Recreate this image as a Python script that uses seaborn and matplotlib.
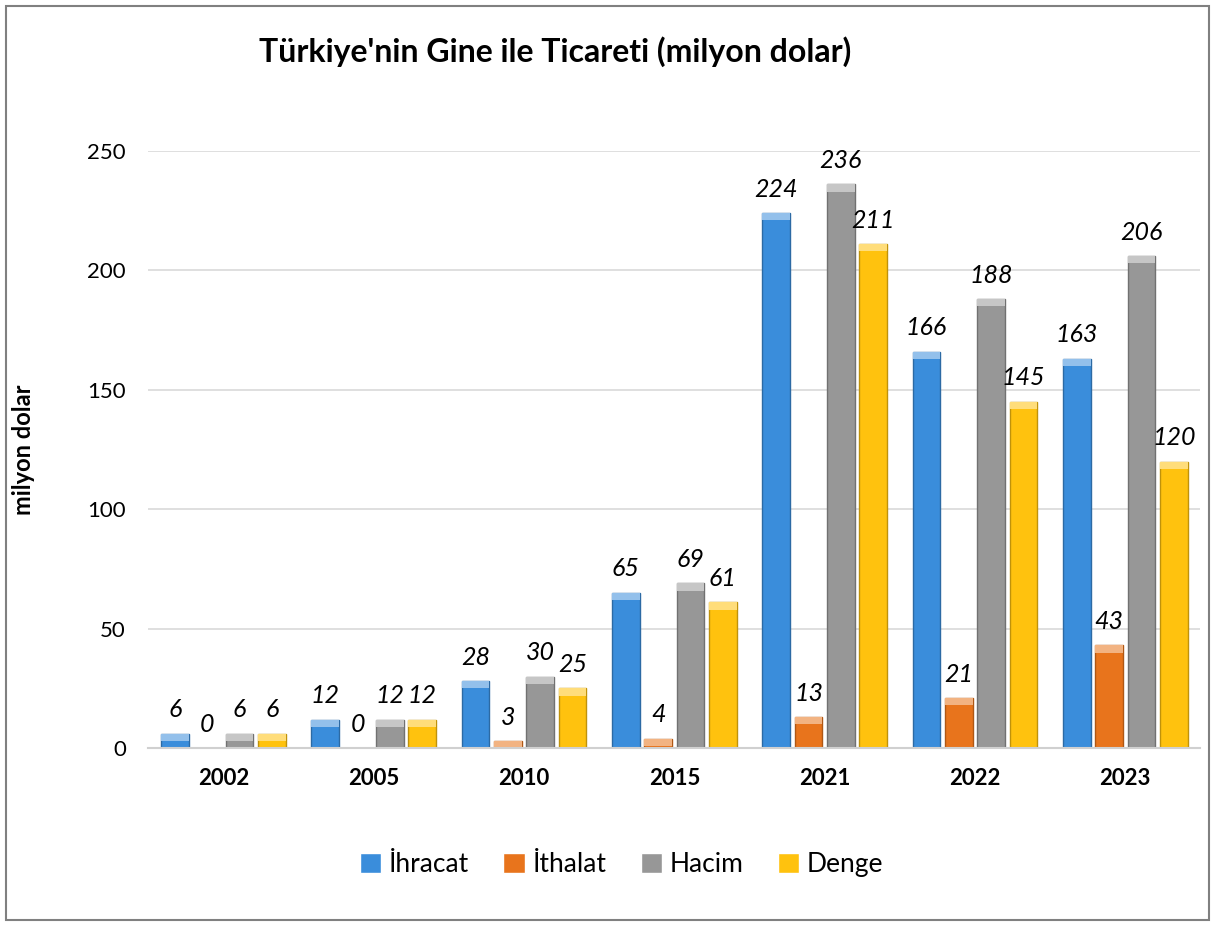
import numpy as np
import pandas as pd
import matplotlib
matplotlib.use("Agg")
import matplotlib.pyplot as plt
import seaborn as sns

years = ["2002", "2005", "2010", "2015", "2021", "2022", "2023"]
ihracat = [6, 12, 28, 65, 224, 166, 163]
ithalat = [0, 0, 3, 4, 13, 21, 43]
hacim = [6, 12, 30, 69, 236, 188, 206]
denge = [6, 12, 25, 61, 211, 145, 120]
series = ["İhracat", "İthalat", "Hacim", "Denge"]
palette = ["#3A8DDB", "#E8741C", "#979797", "#FFC20E"]

df = pd.DataFrame({"Yıl": years * 4,
                   "Seri": np.repeat(series, len(years)),
                   "Değer": ihracat + ithalat + hacim + denge})

sns.set_theme(style="white")
plt.rcParams["font.family"] = ["Lato", "DejaVu Sans"]
plt.rcParams["text.color"] = "black"
plt.rcParams["xtick.color"] = "black"
plt.rcParams["ytick.color"] = "black"
plt.rcParams["axes.labelcolor"] = "black"

fig = plt.figure(figsize=(12.15, 9.26), dpi=100)
ax = fig.add_axes([0.122, 0.192, 0.866, 0.645])

sns.barplot(data=df, x="Yıl", y="Değer", hue="Seri", palette=palette,
            width=0.86, gap=0.14, ax=ax, legend=True, saturation=1)

# darker outline + light top cap for a bevel feel
for cont, col in zip(ax.containers, palette):
    dark = tuple(c * 0.75 for c in matplotlib.colors.to_rgb(col))
    light = tuple(min(1, c + (1 - c) * 0.45) for c in matplotlib.colors.to_rgb(col))
    for p in cont:
        p.set_edgecolor(dark)
        p.set_linewidth(1.0)
        h = p.get_height()
        if h > 0:
            cap = min(h, 3.0)
            ax.add_patch(plt.Rectangle((p.get_x(), h - cap), p.get_width(), cap,
                                       facecolor=light, edgecolor="none", zorder=p.get_zorder() + 0.1))
    ax.bar_label(cont, fmt="%d", padding=9, fontsize=18, fontstyle="italic")

ax.set_ylim(0, 250)
ax.set_yticks([0, 50, 100, 150, 200, 250])
ax.yaxis.grid(True, color="#D9D9D9", linewidth=1.2)
ax.set_axisbelow(True)
for s in ["top", "right", "left"]:
    ax.spines[s].set_visible(False)
ax.spines["bottom"].set_color("#D0D0D0")
ax.spines["bottom"].set_linewidth(1.5)
ax.tick_params(axis="y", labelsize=16, length=0, pad=16)
ax.tick_params(axis="x", labelsize=16, length=0, pad=14)
for t in ax.get_xticklabels():
    t.set_fontweight("bold")
ax.set_xlabel("")
ax.set_ylabel("milyon dolar", fontsize=17, fontweight="bold", labelpad=38)

fig.text(0.457, 0.944, "Türkiye'nin Gine ile Ticareti (milyon dolar)",
         ha="center", va="center", fontsize=23, fontweight="bold")

leg = ax.legend(loc="center", bbox_to_anchor=(0.45, -0.195), ncol=4, frameon=False,
                fontsize=19, handlelength=0.8, handleheight=0.8, handletextpad=0.3,
                columnspacing=1.3)

fig.patches.append(plt.Rectangle((0.005, 0.006), 0.99, 0.988, transform=fig.transFigure,
                                 fill=False, edgecolor="#808080", linewidth=1.5))

fig.savefig("out.png", dpi=100)
